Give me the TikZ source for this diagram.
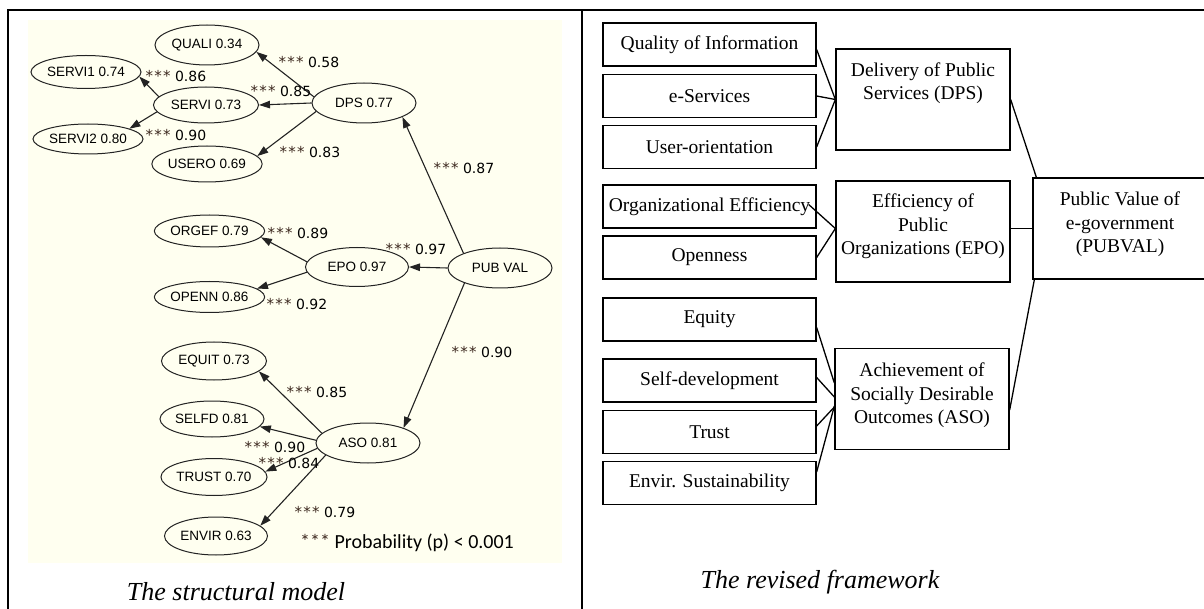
\documentclass[tikz,border=0pt]{standalone}
\usepackage{fontspec}
\setmainfont{Liberation Serif}
\newfontfamily\lsans{Liberation Sans}
\newfontfamily\dvs{DejaVu Sans}
\newfontfamily\carl{Carlito}
\usetikzlibrary{shapes.geometric,arrows.meta}
\definecolor{cream}{RGB}{255,255,240}
\definecolor{starc}{RGB}{60,40,30}
\definecolor{edgec}{RGB}{35,35,35}
\newcommand{\stars}{\textcolor{starc}{{\fontsize{15}{16}\selectfont *\kern1.2pt*\kern1.2pt*}}}
\begin{document}
\begin{tikzpicture}[x=1pt,y=-1pt,
  ell/.style={ellipse, draw=edgec, line width=1pt, inner sep=0pt,
    minimum width=104pt, minimum height=38pt,
    font=\lsans\fontsize{13.5}{15}\selectfont},
  arr/.style={-{Triangle[length=11pt,width=7.5pt]}, line width=1.1pt, draw=edgec},
  lab/.style={inner sep=0pt, font=\dvs\fontsize{14}{16}\selectfont},
  box/.style={draw, line width=1.3pt, minimum width=213pt, minimum height=43pt,
    inner sep=0pt, font=\fontsize{19.5}{23}\selectfont},
  bigbox/.style={draw, line width=1.3pt, minimum width=174pt, minimum height=101pt, inner sep=0pt},
  bigtext/.style={align=center, inner sep=0pt, font=\fontsize{19.5}{23.5}\selectfont},
  con/.style={line width=1.3pt},
  captext/.style={inner sep=0pt, font=\itshape\fontsize{26}{30}\selectfont}
]
\useasboundingbox (0,0) rectangle (1204,609);
% left background
\fill[cream] (28,20) rectangle (562,563);
% frame
\draw[line width=2pt] (8,609) -- (8,10) -- (1204,10);
\draw[line width=2pt] (582,10) -- (582,609);

% ---------- structural model ----------
\node[ell, minimum height=40pt] (quali) at (207,45) {QUALI 0.34};
\node[ell, minimum width=102pt, minimum height=33pt] (servi1) at (86,72) {SERVI1 0.74};
\node[ell, minimum width=105pt, minimum height=36pt] (servi) at (206,105) {SERVI 0.73};
\node[ell, minimum width=103pt, minimum height=30pt] (servi2) at (88,139) {SERVI2 0.80};
\node[ell, minimum width=102pt, minimum height=36pt] (usero) at (207,164) {USERO 0.69};
\node[ell, minimum height=40pt] (dps) at (364,103) {DPS 0.77};
\node[ell, minimum width=105pt, minimum height=32pt] (orgef) at (209.5,231) {ORGEF 0.79};
\node[ell, minimum width=105pt, minimum height=31pt] (openn) at (209.5,297) {OPENN 0.86};
\node[ell, minimum width=103pt, minimum height=39pt] (epo) at (357,267) {EPO 0.97};
\node[ell, minimum height=40pt] (pubval) at (500,268) {PUB VAL};
\node[ell, minimum width=105pt] (equit) at (214,361) {EQUIT 0.73};
\node[ell, minimum width=103pt, minimum height=36pt] (selfd) at (212,419) {SELFD 0.81};
\node[ell, minimum width=105pt, minimum height=37pt] (trust) at (214,477) {TRUST 0.70};
\node[ell, minimum width=103pt] (envir) at (216,536) {ENVIR 0.63};
\node[ell, minimum height=40pt] (aso) at (368,443) {ASO 0.81};

\draw[arr] (dps.173) -- (quali.352);
\draw[arr] (dps.180) -- (servi.0);
\draw[arr] (dps.190) -- (usero.9);
\draw[arr] (servi.170) -- (servi1.355);
\draw[arr] (servi.188) -- (servi2.14);
\draw[arr] (pubval.158) -- (dps.-20);
\draw[arr] (pubval.180) -- (epo.0);
\draw[arr] (epo.174) -- (orgef.-7);
\draw[arr] (epo.186) -- (openn.10);
\draw[arr] (pubval.203) -- (aso.23);
\draw[arr] (aso.168) -- (equit.-13);
\draw[arr] (aso.177) -- (selfd.-9);
\draw[arr] (aso.186) -- (trust.6);
\draw[arr] (aso.196) -- (envir.13);

\node[lab] (l58) at (309,62) {\stars{} 0.58};
\node[lab] (l85a) at (281,91) {\stars{} 0.85};
\node[lab] (l83) at (310,152) {\stars{} 0.83};
\node[lab] (l86) at (176,76) {\stars{} 0.86};
\node[lab] (l90a) at (176,135) {\stars{} 0.90};
\node[lab] (l87) at (464,168) {\stars{} 0.87};
\node[lab] (l89) at (298,233) {\stars{} 0.89};
\node[lab] (l92) at (297,304) {\stars{} 0.92};
\node[lab] (l97) at (416,249) {\stars{} 0.97};
\node[lab] (l90b) at (482,352) {\stars{} 0.90};
\node[lab] (l85b) at (317,392) {\stars{} 0.85};
\node[lab] (l90c) at (275,447) {\stars{} 0.90};
\node[lab] (l84) at (289,463) {\stars{} 0.84};
\node[lab] (l79) at (325,512) {\stars{} 0.79};
\node[inner sep=0pt, font=\carl\fontsize{20}{22}\selectfont] (prob) at (407,543)
  {\textcolor{starc}{***} Probability (p) < 0.001};

\node[captext] (cap1) at (236,592) {The structural model};

% ---------- revised framework ----------
\node[box] (qi) at (709.5,44.5) {Quality of Information};
\node[box] (es) at (709.5,96) {e-Services};
\node[box] (uo) at (709.5,147) {User-orientation};
\node[box] (oe) at (709.5,206.5) {Organizational Efficiency};
\node[box] (op) at (709.5,257.5) {Openness};
\node[box] (eq) at (709.5,319.5) {Equity};
\node[box] (sd) at (709.5,380.5) {Self-development};
\node[box] (tr) at (709.5,432) {Trust};
\node[box] (en) at (709.5,483) {Envir. Sustainability};

\node[bigbox] (dpsb) at (923,99.5) {};
\node[bigtext] (dpst) at (923,83) {Delivery of Public\\Services (DPS)};
\node[bigbox] (epob) at (923,231.5) {};
\node[bigtext] (epot) at (923,226.5) {Efficiency of\\Public\\Organizations (EPO)};
\node[bigbox] (pubb) at (1120,228.5) {};
\node[bigtext] (pubt) at (1120,224.5) {Public Value of\\e-government\\(PUBVAL)};
\node[bigbox] (asob) at (922,399) {};
\node[bigtext] (asot) at (922,395.5) {Achievement of\\Socially Desirable\\Outcomes (ASO)};

\draw[con] ([yshift=-5pt]qi.east) -- (dpsb.west);
\draw[con] (es.east) -- (dpsb.west);
\draw[con] (uo.east) -- (dpsb.west);
\draw[con] ([xshift=-8pt,yshift=2pt]oe.east) -- ([yshift=3pt]epob.west);
\draw[con] (op.east) -- ([yshift=3pt]epob.west);
\draw[con] ([yshift=-8pt]eq.east) -- ([yshift=16pt]asob.west);
\draw[con] ([yshift=3pt]sd.east) -- ([yshift=2pt]asob.west);
\draw[con] ([yshift=6pt]tr.east) -- ([yshift=-8pt]asob.west);
\draw[con] ([yshift=11pt]en.east) -- ([yshift=-7pt]asob.west);
\draw[con] (dpsb.east) -- ([xshift=4pt]pubb.north west);
\draw[con] ([yshift=3pt]epob.east) -- (pubb.west);
\draw[con] ([yshift=-11pt]asob.east) -- ([xshift=2pt]pubb.south west);

\node[captext] (cap2) at (820,582) {The revised framework};
\end{tikzpicture}
\end{document}
